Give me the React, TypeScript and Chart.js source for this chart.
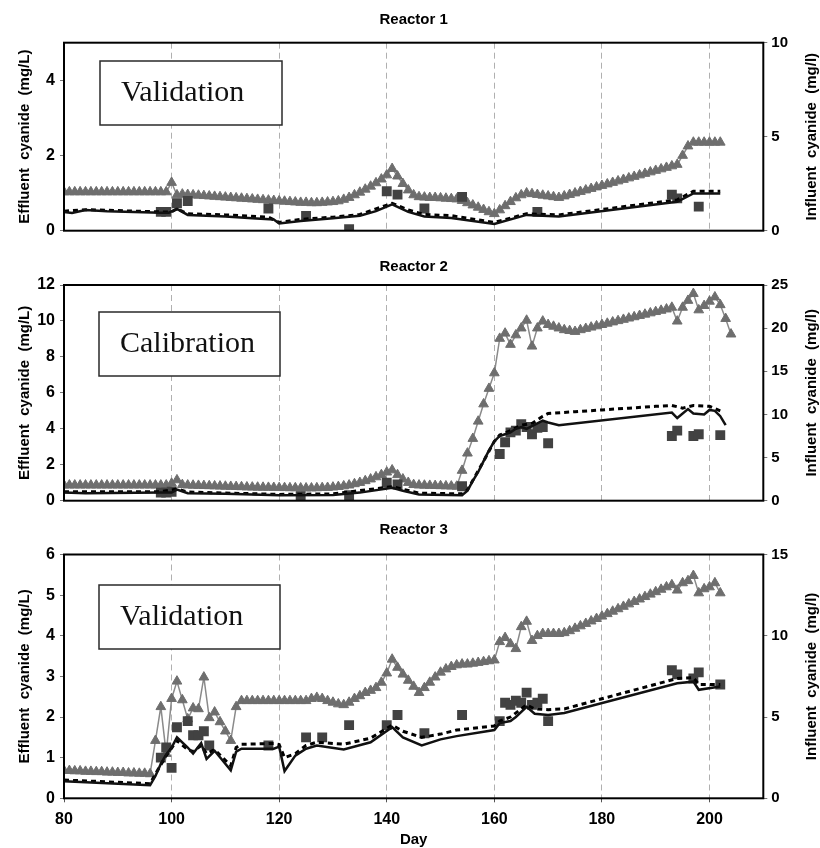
import React, { useEffect, useRef } from 'react';
import Chart from 'chart.js/auto';

const SANS = "'Liberation Sans', Arial, sans-serif";
const SERIF = "'Liberation Serif', 'Times New Roman', serif";

// ---------- shared ----------
const xTicks = [80, 100, 120, 140, 160, 180, 200];
const leftTitle = 'Effluent  cyanide  (mg/L)';
const rightTitle = 'Influent  cyanide  (mg/l)';

// ---------- Reactor 1 ----------
const r1InfluentStartDay = 80;
const r1Influent = [
  2.06, 2.06, 2.06, 2.06, 2.06, 2.06, 2.06, 2.06, 2.06, 2.06, 2.06, 2.06, 2.06, 2.06, 2.06, 2.06, 2.06, 2.06, 2.06, 2.06,
  2.56, 1.9, 1.94,
  1.92, 1.9, 1.88, 1.86, 1.84, 1.82, 1.8, 1.78, 1.76, 1.74, 1.72, 1.7, 1.68, 1.66, 1.64, 1.62, 1.6,
  1.58, 1.56, 1.54, 1.52, 1.5, 1.5, 1.48, 1.48, 1.5, 1.52, 1.54, 1.58,
  1.66, 1.76, 1.9, 2.04, 2.2, 2.36, 2.54, 2.74, 2.96, 3.3,
  2.9, 2.5, 2.16, 1.9, 1.8,
  1.78, 1.76, 1.76, 1.74, 1.72, 1.7, 1.68,
  1.6, 1.48, 1.36, 1.24, 1.12, 1.0, 0.9,
  1.1, 1.32, 1.54, 1.74, 1.9, 2.0,
  1.96, 1.92, 1.88, 1.84, 1.8, 1.76,
  1.84, 1.92, 2.0, 2.08, 2.16, 2.24, 2.32, 2.4, 2.48, 2.56, 2.64, 2.72, 2.8, 2.88, 2.96, 3.04, 3.12, 3.2, 3.28, 3.36, 3.44,
  3.52, 4.0, 4.5, 4.7, 4.7, 4.7, 4.7, 4.7, 4.7,
];
const r1MeasuredDays = [98, 99, 101, 103, 118, 125, 133, 140, 142, 147, 154, 168, 193, 194, 198];
const r1Measured = [0.5, 0.5, 0.73, 0.79, 0.59, 0.39, 0.04, 1.05, 0.96, 0.59, 0.9, 0.5, 0.96, 0.86, 0.64];
const r1ModelDays = [80, 81.5, 84, 88, 98, 99.5, 101, 103, 110, 115, 119, 120, 124, 130, 133, 135, 138, 141, 144, 147, 152, 160, 166, 172, 194, 197, 202];
const r1Model = [0.5, 0.47, 0.55, 0.52, 0.48, 0.48, 0.58, 0.42, 0.38, 0.33, 0.3, 0.19, 0.26, 0.33, 0.37, 0.4, 0.52, 0.7, 0.5, 0.38, 0.34, 0.18, 0.42, 0.38, 0.77, 0.99, 0.99];
const r1Model2Days = [80, 84, 98, 100, 101, 103, 110, 118, 120, 124, 130, 135, 141, 144, 147, 152, 160, 166, 172, 194, 197, 202];
const r1Model2 = [0.52, 0.56, 0.5, 0.5, 0.58, 0.45, 0.42, 0.36, 0.22, 0.3, 0.36, 0.43, 0.73, 0.55, 0.43, 0.4, 0.22, 0.45, 0.42, 0.82, 1.05, 1.05];
const r1LeftTicks = [0, 2, 4];
const r1RightTicks = [0, 5, 10];

// ---------- Reactor 2 ----------
const r2InfluentStartDay = 80;
const r2Influent = [
  1.8, 1.8, 1.8, 1.8, 1.8, 1.8, 1.8, 1.8, 1.8, 1.8, 1.8, 1.8, 1.8, 1.8, 1.8, 1.8, 1.8, 1.8, 1.8, 1.8,
  2.0, 2.4, 1.85,
  1.8, 1.78, 1.76, 1.74, 1.72, 1.7, 1.68, 1.66, 1.64, 1.62, 1.6, 1.58, 1.56, 1.55, 1.54, 1.53, 1.52,
  1.5, 1.5, 1.48, 1.48, 1.46, 1.46, 1.46, 1.48, 1.5, 1.52, 1.56, 1.62, 1.7,
  1.8, 1.95, 2.1, 2.3, 2.5, 2.75, 3.0, 3.3, 3.55,
  3.0, 2.5, 2.1, 1.85,
  1.8, 1.78, 1.76, 1.74, 1.72, 1.7, 1.68, 1.66,
  3.5, 5.5, 7.2, 9.2, 11.2, 13.0, 14.8, 18.8, 19.4, 18.1, 19.2, 20.0, 20.9, 17.9, 20.0, 20.8, 20.4,
  20.2, 20.0, 19.8, 19.7, 19.6,
  19.8, 19.95, 20.1, 20.25, 20.4, 20.55, 20.7, 20.85, 21.0, 21.15, 21.3, 21.45, 21.6, 21.75, 21.9, 22.05, 22.2, 22.4,
  20.8, 22.4, 23.2, 24.0, 22.1, 22.6, 23.1, 23.6, 22.7, 21.1, 19.3,
];
const r2MeasuredDays = [98, 99, 100, 124, 133, 140, 142, 154, 161, 162, 163, 164, 165, 166, 167, 168, 169, 170, 193, 194, 197, 198, 202];
const r2Measured = [0.45, 0.45, 0.5, 0.25, 0.3, 1.0, 0.9, 0.8, 2.6, 3.25, 3.8, 3.9, 4.25, 4.1, 3.7, 4.05, 4.1, 3.2, 3.6, 3.9, 3.6, 3.7, 3.65];
const r2ModelDays = [80, 84, 98, 100, 101, 103, 110, 120, 130, 135, 141, 143, 146, 154, 155, 156, 157, 158, 159, 160, 161, 162, 163, 164, 165, 166, 167, 168, 169, 170, 172, 193, 194, 196, 197, 199, 200, 201, 202, 203];
const r2Model = [0.45, 0.42, 0.45, 0.45, 0.62, 0.42, 0.38, 0.3, 0.32, 0.45, 0.72, 0.55, 0.35, 0.3, 0.55, 1.1, 1.6, 2.2, 2.8, 3.3, 3.6, 3.7, 3.8, 4.0, 4.1, 4.0, 4.15, 4.3, 4.45, 4.35, 4.2, 4.9, 4.6, 5.1, 4.85, 4.8, 5.05, 5.0, 4.7, 4.2];
const r2Model2Days = [80, 98, 101, 103, 120, 130, 141, 146, 154, 155, 158, 160, 161, 163, 165, 167, 168, 169, 170, 175, 180, 185, 190, 193, 195, 197, 200, 202];
const r2Model2 = [0.5, 0.5, 0.65, 0.48, 0.35, 0.38, 0.78, 0.42, 0.38, 0.6, 2.2, 3.3, 3.65, 3.9, 4.2, 4.3, 4.5, 4.7, 4.85, 4.95, 5.05, 5.15, 5.25, 5.3, 5.15, 5.3, 5.25, 5.0];
const r2LeftTicks = [0, 2, 4, 6, 8, 10, 12];
const r2RightTicks = [0, 5, 10, 15, 20, 25];

// ---------- Reactor 3 ----------
const r3InfluentStartDay = 80;
const r3Influent = [
  1.7, 1.7, 1.68, 1.68, 1.65, 1.65, 1.63, 1.63, 1.6, 1.6, 1.58, 1.58, 1.55, 1.55, 1.53, 1.53, 1.5,
  3.55, 5.63, 2.75, 6.13, 7.2, 6.05, 4.88, 5.55, 5.5, 7.45, 4.95, 5.3, 4.7, 4.13, 3.55, 5.63,
  6.0, 6.0, 6.0, 6.0, 6.0, 6.0, 6.0, 6.0, 6.0, 6.0, 6.0, 6.0, 6.0,
  6.13, 6.2, 6.13, 6.0, 5.9, 5.8, 5.75, 5.9, 6.13, 6.3, 6.5, 6.63, 6.8, 7.13, 7.7, 8.55, 8.05, 7.63, 7.25, 6.88,
  6.5, 6.8, 7.13, 7.45, 7.75, 7.95, 8.1, 8.2, 8.25, 8.25, 8.3, 8.35, 8.4, 8.45, 8.5, 9.63, 9.88, 9.5, 9.2, 10.55,
  10.88, 9.7, 10.0, 10.13, 10.13, 10.13, 10.13, 10.18,
  10.3, 10.45, 10.6, 10.75, 10.9, 11.05, 11.2, 11.35, 11.5, 11.65, 11.8, 11.95, 12.1, 12.25, 12.4, 12.55, 12.7, 12.85, 13.0, 13.13,
  12.8, 13.25, 13.38, 13.7, 12.63, 12.88, 13.0, 13.25, 12.63,
];
const r3MeasuredDays = [98, 99, 100, 101, 103, 104, 105, 106, 107, 118, 125, 128, 133, 140, 142, 147, 154, 161, 162, 163, 164, 165, 166, 167, 168, 169, 170, 193, 194, 197, 198, 202];
const r3Measured = [1.0, 1.25, 0.75, 1.75, 1.9, 1.55, 1.55, 1.65, 1.3, 1.3, 1.5, 1.5, 1.8, 1.8, 2.05, 1.6, 2.05, 1.9, 2.35, 2.3, 2.4, 2.35, 2.6, 2.3, 2.35, 2.45, 1.9, 3.15, 3.05, 2.95, 3.1, 2.8];
const r3ModelDays = [80, 96, 97, 98, 99, 100, 101, 103, 104, 105.5, 106.5, 108, 111, 112, 113, 119, 120, 121, 123, 125, 127, 132, 137, 141, 143, 146.5, 150, 153, 160, 161, 163, 164, 166, 167.5, 170, 173, 194, 197, 198, 202];
const r3Model = [0.42, 0.32, 0.55, 0.85, 1.08, 1.25, 1.5, 1.25, 1.1, 1.36, 0.97, 1.17, 0.69, 1.15, 1.22, 1.22, 1.27, 0.67, 1.05, 1.22, 1.3, 1.2, 1.38, 1.75, 1.5, 1.3, 1.45, 1.53, 1.68, 1.85, 1.9, 2.0, 2.25, 2.08, 2.05, 2.1, 2.83, 2.87, 2.67, 2.75];
const r3Model2Days = [80, 96, 97, 99, 101, 103, 104, 105.5, 106.5, 108, 111, 112, 113, 119, 120, 121, 123, 125, 127, 132, 137, 141, 143, 146.5, 150, 153, 160, 161, 163, 166, 167.5, 170, 173, 194, 197, 198, 202];
const r3Model2 = [0.45, 0.36, 0.6, 1.05, 1.42, 1.2, 1.15, 1.3, 1.1, 1.2, 0.8, 1.25, 1.33, 1.35, 1.32, 1.0, 1.1, 1.3, 1.38, 1.33, 1.48, 1.8, 1.65, 1.5, 1.58, 1.68, 1.78, 1.9, 2.0, 2.3, 2.2, 2.18, 2.2, 2.95, 2.97, 2.8, 2.8];
const r3LeftTicks = [0, 1, 2, 3, 4, 5, 6];
const r3RightTicks = [0, 5, 10, 15];

type PanelCfg = {
  id: number;
  title: string;
  label: string;
  top: number;
  bottom: number;
  titleY: number;
  box: { x: number; y: number; w: number; h: number };
  yMax: number;
  y1Max: number;
  leftTicks: number[];
  rightTicks: number[];
  showX: boolean;
  inflStart: number;
  infl: number[];
  measDays: number[];
  meas: number[];
  modelDays: number[];
  model: number[];
  model2Days: number[];
  model2: number[];
};

const panels: PanelCfg[] = [
  {
    id: 1, title: 'Reactor 1', label: 'Validation', top: 42.7, bottom: 230.7, titleY: 20,
    box: { x: 100, y: 61, w: 182, h: 64 }, yMax: 5, y1Max: 10,
    leftTicks: r1LeftTicks, rightTicks: r1RightTicks, showX: false,
    inflStart: r1InfluentStartDay, infl: r1Influent, measDays: r1MeasuredDays, meas: r1Measured,
    modelDays: r1ModelDays, model: r1Model, model2Days: r1Model2Days, model2: r1Model2,
  },
  {
    id: 2, title: 'Reactor 2', label: 'Calibration', top: 285, bottom: 500.7, titleY: 267,
    box: { x: 99, y: 312, w: 181, h: 64 }, yMax: 12, y1Max: 25,
    leftTicks: r2LeftTicks, rightTicks: r2RightTicks, showX: false,
    inflStart: r2InfluentStartDay, infl: r2Influent, measDays: r2MeasuredDays, meas: r2Measured,
    modelDays: r2ModelDays, model: r2Model, model2Days: r2Model2Days, model2: r2Model2,
  },
  {
    id: 3, title: 'Reactor 3', label: 'Validation', top: 554.5, bottom: 798.3, titleY: 530,
    box: { x: 99, y: 585, w: 181, h: 64 }, yMax: 6, y1Max: 15,
    leftTicks: r3LeftTicks, rightTicks: r3RightTicks, showX: true,
    inflStart: r3InfluentStartDay, infl: r3Influent, measDays: r3MeasuredDays, meas: r3Measured,
    modelDays: r3ModelDays, model: r3Model, model2Days: r3Model2Days, model2: r3Model2,
  },
];

const W = 820;
const H = 848;
const LEFT_W = 64;
const RIGHT_W = 56.7;

function makeDecor(p: PanelCfg) {
  return {
    id: 'decor' + p.id,
    beforeDatasetsDraw(chart: any) {
      const ctx = chart.ctx as CanvasRenderingContext2D;
      ctx.save();
      ctx.fillStyle = '#ffffff';
      ctx.fillRect(p.box.x, p.box.y, p.box.w, p.box.h);
      ctx.strokeStyle = '#2a2a2a';
      ctx.lineWidth = 1.5;
      ctx.strokeRect(p.box.x, p.box.y, p.box.w, p.box.h);
      ctx.fillStyle = '#111';
      ctx.font = `30px ${SERIF}`;
      ctx.textAlign = 'left';
      ctx.textBaseline = 'alphabetic';
      ctx.fillText(p.label, p.box.x + 21, p.box.y + 40);
      ctx.restore();
    },
    afterDatasetsDraw(chart: any) {
      const { left, right, top, bottom } = chart.chartArea;
      const ctx = chart.ctx as CanvasRenderingContext2D;
      ctx.save();
      ctx.strokeStyle = '#000';
      ctx.lineWidth = 2;
      ctx.strokeRect(left, top, right - left, bottom - top);
      ctx.restore();
    },
    afterDraw(chart: any) {
      const { left, right, top, bottom } = chart.chartArea;
      const ctx = chart.ctx as CanvasRenderingContext2D;
      const midY = (top + bottom) / 2;
      ctx.save();
      ctx.fillStyle = '#000';
      ctx.textAlign = 'center';
      ctx.textBaseline = 'middle';
      ctx.font = `bold 15px ${SANS}`;
      ctx.fillText(p.title, (left + right) / 2, p.titleY);
      ctx.font = `bold 15px ${SANS}`;
      ctx.save();
      ctx.translate(25, midY);
      ctx.rotate(-Math.PI / 2);
      ctx.fillText(leftTitle, 0, 0);
      ctx.restore();
      ctx.save();
      ctx.translate(812, midY);
      ctx.rotate(-Math.PI / 2);
      ctx.fillText(rightTitle, 0, 0);
      ctx.restore();
      if (p.showX) {
        ctx.font = `bold 15px ${SANS}`;
        ctx.fillText('Day', (left + right) / 2, 840);
      }
      ctx.restore();
    },
  };
}

function Panel({ p }: { p: PanelCfg }) {
  const ref = useRef<HTMLCanvasElement>(null);
  useEffect(() => {
    const xh = p.showX ? 30 : 1;
    const tickFont = { family: SANS, size: 16, weight: 'bold' as const };
    const chart = new Chart(ref.current!, {
      type: 'line',
      data: {
        datasets: [
          {
            label: 'Simulated 1',
            data: p.modelDays.map((d, i) => ({ x: d, y: p.model[i] })),
            yAxisID: 'y',
            borderColor: '#111',
            borderWidth: 2.5,
            pointRadius: 0,
            tension: 0,
            order: 1,
          },
          {
            label: 'Simulated 2',
            data: p.model2Days.map((d, i) => ({ x: d, y: p.model2[i] })),
            yAxisID: 'y',
            borderColor: '#000',
            borderWidth: 3,
            borderDash: [5, 4],
            pointRadius: 0,
            tension: 0,
            order: 2,
          },
          {
            label: 'Measured effluent',
            data: p.measDays.map((d, i) => ({ x: d, y: p.meas[i] })),
            yAxisID: 'y',
            showLine: false,
            pointStyle: 'rect',
            pointRadius: 7,
            pointBackgroundColor: '#424242',
            pointBorderColor: '#424242',
            pointBorderWidth: 0,
            order: 3,
          },
          {
            label: 'Influent',
            data: p.infl.map((v, i) => ({ x: p.inflStart + i, y: v })),
            yAxisID: 'y1',
            borderColor: '#8a8a8a',
            borderWidth: 1.5,
            pointStyle: 'triangle',
            pointRadius: 5.6,
            pointBackgroundColor: '#6e6e6e',
            pointBorderColor: '#6e6e6e',
            pointBorderWidth: 1,
            tension: 0,
            order: 4,
          },
        ],
      },
      options: {
        responsive: false,
        animation: false,
        events: [],
        layout: { padding: { left: 0, right: 0, top: p.top, bottom: H - p.bottom - xh } },
        plugins: { legend: { display: false }, tooltip: { enabled: false }, title: { display: false } },
        scales: {
          x: {
            type: 'linear',
            min: 80,
            max: 210,
            afterBuildTicks: (s: any) => { s.ticks = xTicks.map((v) => ({ value: v })); },
            afterFit: (s: any) => { s.height = xh; },
            ticks: { display: p.showX, font: tickFont, color: '#000', padding: 8, maxRotation: 0, autoSkip: false },
            grid: {
              display: true,
              color: (c: any) => (c.tick && c.tick.value === 80 ? 'rgba(0,0,0,0)' : '#b0b0b0'),
              lineWidth: 1,
              drawTicks: p.showX,
              tickLength: 4,
              tickColor: '#555',
            },
            border: { display: false, dash: [6, 4] },
          },
          y: {
            type: 'linear',
            position: 'left',
            min: 0,
            max: p.yMax,
            afterBuildTicks: (s: any) => { s.ticks = p.leftTicks.map((v) => ({ value: v })); },
            afterFit: (s: any) => { s.width = LEFT_W; },
            ticks: { font: tickFont, color: '#000', padding: 5 },
            grid: { drawOnChartArea: false, drawTicks: true, tickLength: 4, color: '#777' },
            border: { display: false },
          },
          y1: {
            type: 'linear',
            position: 'right',
            min: 0,
            max: p.y1Max,
            afterBuildTicks: (s: any) => { s.ticks = p.rightTicks.map((v) => ({ value: v })); },
            afterFit: (s: any) => { s.width = RIGHT_W; },
            ticks: { font: { family: SANS, size: 15, weight: 'bold' as const }, color: '#000', padding: 4 },
            grid: { drawOnChartArea: false, drawTicks: true, tickLength: 4, color: '#777' },
            border: { display: false },
          },
        },
      } as any,
      plugins: [makeDecor(p)],
    });
    return () => chart.destroy();
  }, [p]);
  return (
    <canvas
      ref={ref}
      width={W}
      height={H}
      style={{ position: 'absolute', left: 0, top: 0, width: W, height: H }}
    />
  );
}

export default function App() {
  return (
    <div style={{ position: 'absolute', left: 0, top: 0, width: W, height: H, background: '#fff', overflow: 'hidden' }}>
      {panels.map((p) => (
        <Panel key={p.id} p={p} />
      ))}
    </div>
  );
}
